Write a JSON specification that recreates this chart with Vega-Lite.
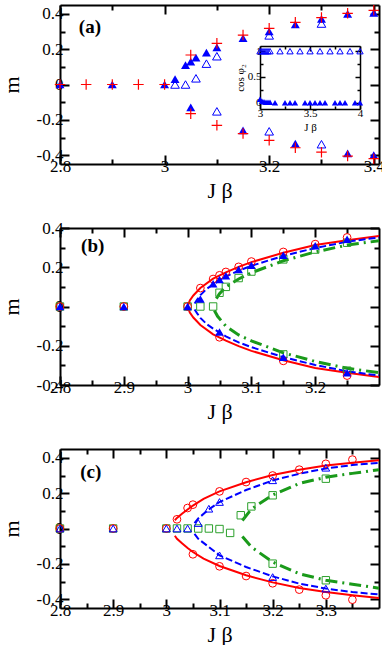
{
  "$schema": "https://vega.github.io/schema/vega-lite/v6.json",
  "padding": {"left": 0, "top": 2, "right": 0, "bottom": 0},
  "background": "white",
  "bounds": "flush",
  "spacing": 64,
  "config": {
    "view": {"stroke": null},
    "axis": {"grid": false, "domainColor": "black", "domainWidth": 2, "tickColor": "black", "tickWidth": 2,
      "labelFont": "Liberation Serif", "labelFontSize": 17, "labelColor": "black",
      "titleFont": "Liberation Serif", "titleFontSize": 22, "titleFontWeight": "normal", "titleColor": "black",
      "labelFlush": false, "labelOverlap": false}
  },
  "datasets": {
    "a": [
      {"s":"plus","jb":2.8,"m":0},{"s":"plus","jb":2.85,"m":0},{"s":"plus","jb":2.9,"m":0},{"s":"plus","jb":2.95,"m":0},{"s":"plus","jb":3.0,"m":0},
      {"s":"plus","jb":3.05,"m":0.167},{"s":"plus","jb":3.05,"m":-0.165},
      {"s":"plus","jb":3.1,"m":0.233},{"s":"plus","jb":3.1,"m":-0.231},
      {"s":"plus","jb":3.15,"m":0.28},{"s":"plus","jb":3.15,"m":-0.278},
      {"s":"plus","jb":3.2,"m":0.318},{"s":"plus","jb":3.2,"m":-0.316},
      {"s":"plus","jb":3.25,"m":0.352},{"s":"plus","jb":3.25,"m":-0.358},
      {"s":"plus","jb":3.3,"m":0.379},{"s":"plus","jb":3.3,"m":-0.383},
      {"s":"plus","jb":3.35,"m":0.403},{"s":"plus","jb":3.35,"m":-0.405},
      {"s":"plus","jb":3.4,"m":0.42},{"s":"plus","jb":3.4,"m":-0.42},
      {"s":"tri","jb":2.8,"m":0},{"s":"tri","jb":2.9,"m":0},{"s":"tri","jb":3.0,"m":0},
      {"s":"tri","jb":3.02,"m":0.03},{"s":"tri","jb":3.04,"m":0.11},{"s":"tri","jb":3.05,"m":0.13},
      {"s":"tri","jb":3.06,"m":0.152},{"s":"tri","jb":3.08,"m":0.18},{"s":"tri","jb":3.1,"m":0.21},
      {"s":"tri","jb":3.05,"m":-0.13},{"s":"tri","jb":3.15,"m":0.262},{"s":"tri","jb":3.15,"m":-0.26},
      {"s":"tri","jb":3.2,"m":0.3},{"s":"tri","jb":3.25,"m":0.34},{"s":"tri","jb":3.25,"m":-0.335},
      {"s":"tri","jb":3.3,"m":0.372},{"s":"tri","jb":3.35,"m":0.4},{"s":"tri","jb":3.35,"m":-0.39},
      {"s":"tri","jb":3.4,"m":0.405},{"s":"tri","jb":3.4,"m":-0.4},
      {"s":"otri","jb":3.02,"m":0},{"s":"otri","jb":3.04,"m":0},{"s":"otri","jb":3.06,"m":0.035},
      {"s":"otri","jb":3.08,"m":0.118},{"s":"otri","jb":3.1,"m":0.16},{"s":"otri","jb":3.1,"m":-0.152},
      {"s":"otri","jb":3.2,"m":0.278},{"s":"otri","jb":3.2,"m":-0.265},
      {"s":"otri","jb":3.3,"m":0.345},{"s":"otri","jb":3.3,"m":-0.338}
    ],
    "ai": [
      {"s":"o","jb":3.0,"c":1},{"s":"o","jb":3.02,"c":1},{"s":"o","jb":3.04,"c":1},{"s":"o","jb":3.06,"c":1},{"s":"o","jb":3.08,"c":1},{"s":"o","jb":3.1,"c":1},
      {"s":"o","jb":3.2,"c":1},{"s":"o","jb":3.3,"c":1},{"s":"o","jb":3.4,"c":1},{"s":"o","jb":3.5,"c":1},{"s":"o","jb":3.6,"c":1},
      {"s":"o","jb":3.7,"c":1},{"s":"o","jb":3.8,"c":1},{"s":"o","jb":3.9,"c":1},{"s":"o","jb":4.0,"c":1},
      {"s":"f","jb":3.0,"c":0.07},{"s":"f","jb":3.02,"c":0.03},{"s":"f","jb":3.04,"c":0.02},{"s":"f","jb":3.06,"c":0.01},{"s":"f","jb":3.08,"c":0.01},
      {"s":"f","jb":3.1,"c":0.01},{"s":"f","jb":3.15,"c":0},{"s":"f","jb":3.25,"c":0},{"s":"f","jb":3.3,"c":0},{"s":"f","jb":3.35,"c":0},
      {"s":"f","jb":3.45,"c":0},{"s":"f","jb":3.5,"c":0},{"s":"f","jb":3.55,"c":0},{"s":"f","jb":3.6,"c":0},{"s":"f","jb":3.65,"c":0},
      {"s":"f","jb":3.75,"c":0},{"s":"f","jb":3.8,"c":0},{"s":"f","jb":3.85,"c":0},{"s":"f","jb":3.95,"c":0},{"s":"f","jb":4.0,"c":0}
    ],
    "b": [
      {"s":"circ","jb":2.8,"m":0},{"s":"circ","jb":2.9,"m":0},{"s":"circ","jb":3.0,"m":0},
      {"s":"circ","jb":3.02,"m":0.094},{"s":"circ","jb":3.04,"m":0.14},{"s":"circ","jb":3.05,"m":0.159},{"s":"circ","jb":3.06,"m":0.176},
      {"s":"circ","jb":3.08,"m":0.202},{"s":"circ","jb":3.1,"m":0.229},{"s":"circ","jb":3.15,"m":0.278},{"s":"circ","jb":3.2,"m":0.318},
      {"s":"circ","jb":3.25,"m":0.352},{"s":"circ","jb":3.05,"m":-0.157},{"s":"circ","jb":3.15,"m":-0.277},{"s":"circ","jb":3.25,"m":-0.352},
      {"s":"tri","jb":2.8,"m":0},{"s":"tri","jb":2.9,"m":0},{"s":"tri","jb":3.0,"m":0},
      {"s":"tri","jb":3.02,"m":0.038},{"s":"tri","jb":3.04,"m":0.116},{"s":"tri","jb":3.05,"m":0.137},{"s":"tri","jb":3.06,"m":0.157},
      {"s":"tri","jb":3.08,"m":0.188},{"s":"tri","jb":3.1,"m":0.21},{"s":"tri","jb":3.15,"m":0.261},{"s":"tri","jb":3.2,"m":0.31},
      {"s":"tri","jb":3.25,"m":0.343},{"s":"tri","jb":3.05,"m":-0.13},{"s":"tri","jb":3.15,"m":-0.258},{"s":"tri","jb":3.25,"m":-0.337},
      {"s":"sq","jb":2.8,"m":0},{"s":"sq","jb":2.9,"m":0},{"s":"sq","jb":3.0,"m":0},{"s":"sq","jb":3.02,"m":0},{"s":"sq","jb":3.04,"m":0},
      {"s":"sq","jb":3.05,"m":0.07},{"s":"sq","jb":3.06,"m":0.1},{"s":"sq","jb":3.08,"m":0.145},{"s":"sq","jb":3.1,"m":0.178},
      {"s":"sq","jb":3.15,"m":0.24},{"s":"sq","jb":3.2,"m":0.29},{"s":"sq","jb":3.25,"m":0.325},
      {"s":"sq","jb":3.15,"m":-0.244},{"s":"sq","jb":3.25,"m":-0.327}
    ],
    "bc": [
      {"s":"r","k":1,"jb":3.3,"m":-0.359},{"s":"r","k":2,"jb":3.25,"m":-0.338},{"s":"r","k":3,"jb":3.2,"m":-0.313},{"s":"r","k":4,"jb":3.15,"m":-0.274},
      {"s":"r","k":5,"jb":3.1,"m":-0.226},{"s":"r","k":6,"jb":3.08,"m":-0.202},{"s":"r","k":7,"jb":3.06,"m":-0.174},{"s":"r","k":8,"jb":3.04,"m":-0.142},
      {"s":"r","k":9,"jb":3.02,"m":-0.094},{"s":"r","k":10,"jb":3.009,"m":-0.056},{"s":"r","k":11,"jb":3.0035,"m":-0.031},{"s":"r","k":12,"jb":3.0,"m":0},
      {"s":"r","k":13,"jb":3.0035,"m":0.031},{"s":"r","k":14,"jb":3.009,"m":0.056},{"s":"r","k":15,"jb":3.02,"m":0.094},{"s":"r","k":16,"jb":3.04,"m":0.142},
      {"s":"r","k":17,"jb":3.06,"m":0.174},{"s":"r","k":18,"jb":3.08,"m":0.202},{"s":"r","k":19,"jb":3.1,"m":0.226},{"s":"r","k":20,"jb":3.15,"m":0.274},
      {"s":"r","k":21,"jb":3.2,"m":0.313},{"s":"r","k":22,"jb":3.25,"m":0.338},{"s":"r","k":23,"jb":3.3,"m":0.359},
      {"s":"bu","k":1,"jb":3.011,"m":0.015},{"s":"bu","k":2,"jb":3.015,"m":0.035},{"s":"bu","k":3,"jb":3.02,"m":0.058},{"s":"bu","k":4,"jb":3.03,"m":0.09},
      {"s":"bu","k":5,"jb":3.04,"m":0.113},{"s":"bu","k":6,"jb":3.06,"m":0.152},{"s":"bu","k":7,"jb":3.08,"m":0.183},{"s":"bu","k":8,"jb":3.1,"m":0.207},
      {"s":"bu","k":9,"jb":3.15,"m":0.258},{"s":"bu","k":10,"jb":3.2,"m":0.298},{"s":"bu","k":11,"jb":3.25,"m":0.33},{"s":"bu","k":12,"jb":3.3,"m":0.352},
      {"s":"bl","k":1,"jb":3.011,"m":-0.015},{"s":"bl","k":2,"jb":3.015,"m":-0.035},{"s":"bl","k":3,"jb":3.02,"m":-0.058},{"s":"bl","k":4,"jb":3.03,"m":-0.09},
      {"s":"bl","k":5,"jb":3.04,"m":-0.113},{"s":"bl","k":6,"jb":3.06,"m":-0.152},{"s":"bl","k":7,"jb":3.08,"m":-0.183},{"s":"bl","k":8,"jb":3.1,"m":-0.207},
      {"s":"bl","k":9,"jb":3.15,"m":-0.258},{"s":"bl","k":10,"jb":3.2,"m":-0.298},{"s":"bl","k":11,"jb":3.25,"m":-0.33},{"s":"bl","k":12,"jb":3.3,"m":-0.352},
      {"s":"gu","k":1,"jb":3.045,"m":0.04},{"s":"gu","k":2,"jb":3.05,"m":0.065},{"s":"gu","k":3,"jb":3.06,"m":0.1},{"s":"gu","k":4,"jb":3.08,"m":0.14},
      {"s":"gu","k":5,"jb":3.1,"m":0.172},{"s":"gu","k":6,"jb":3.15,"m":0.233},{"s":"gu","k":7,"jb":3.2,"m":0.278},{"s":"gu","k":8,"jb":3.25,"m":0.313},{"s":"gu","k":9,"jb":3.3,"m":0.335},
      {"s":"gl","k":1,"jb":3.042,"m":-0.02},{"s":"gl","k":2,"jb":3.047,"m":-0.05},{"s":"gl","k":3,"jb":3.06,"m":-0.1},{"s":"gl","k":4,"jb":3.08,"m":-0.145},
      {"s":"gl","k":5,"jb":3.1,"m":-0.175},{"s":"gl","k":6,"jb":3.15,"m":-0.236},{"s":"gl","k":7,"jb":3.2,"m":-0.28},{"s":"gl","k":8,"jb":3.25,"m":-0.315},{"s":"gl","k":9,"jb":3.3,"m":-0.337}
    ],
    "c": [
      {"s":"circ","jb":2.8,"m":0},{"s":"circ","jb":2.9,"m":0},{"s":"circ","jb":3.0,"m":0},
      {"s":"circ","jb":3.02,"m":0.052},{"s":"circ","jb":3.04,"m":0.116},{"s":"circ","jb":3.05,"m":0.135},{"s":"circ","jb":3.1,"m":0.21},
      {"s":"circ","jb":3.15,"m":0.263},{"s":"circ","jb":3.2,"m":0.3},{"s":"circ","jb":3.25,"m":0.333},{"s":"circ","jb":3.3,"m":0.366},{"s":"circ","jb":3.35,"m":0.39},
      {"s":"circ","jb":3.05,"m":-0.146},{"s":"circ","jb":3.1,"m":-0.214},{"s":"circ","jb":3.15,"m":-0.269},{"s":"circ","jb":3.2,"m":-0.31},
      {"s":"circ","jb":3.25,"m":-0.346},{"s":"circ","jb":3.3,"m":-0.378},{"s":"circ","jb":3.35,"m":-0.403},
      {"s":"otri","jb":2.8,"m":0},{"s":"otri","jb":2.9,"m":0},{"s":"otri","jb":3.0,"m":0},{"s":"otri","jb":3.02,"m":0},{"s":"otri","jb":3.04,"m":0},
      {"s":"otri","jb":3.06,"m":0.031},{"s":"otri","jb":3.08,"m":0.112},{"s":"otri","jb":3.1,"m":0.15},{"s":"otri","jb":3.2,"m":0.273},{"s":"otri","jb":3.3,"m":0.344},
      {"s":"otri","jb":3.1,"m":-0.152},{"s":"otri","jb":3.2,"m":-0.275},{"s":"otri","jb":3.3,"m":-0.34},
      {"s":"sq","jb":2.8,"m":0},{"s":"sq","jb":2.9,"m":0},{"s":"sq","jb":3.0,"m":0},{"s":"sq","jb":3.02,"m":0},{"s":"sq","jb":3.04,"m":0},
      {"s":"sq","jb":3.06,"m":0},{"s":"sq","jb":3.08,"m":0},{"s":"sq","jb":3.1,"m":-0.003},{"s":"sq","jb":3.12,"m":-0.025},
      {"s":"sq","jb":3.14,"m":0.075},{"s":"sq","jb":3.16,"m":0.125},{"s":"sq","jb":3.2,"m":0.188},{"s":"sq","jb":3.3,"m":0.282},
      {"s":"sq","jb":3.2,"m":-0.199},{"s":"sq","jb":3.3,"m":-0.293}
    ],
    "cc": [
      {"s":"ru","k":1,"jb":3.016,"m":0.047},{"s":"ru","k":2,"jb":3.02,"m":0.06},{"s":"ru","k":3,"jb":3.03,"m":0.085},{"s":"ru","k":4,"jb":3.04,"m":0.108},
      {"s":"ru","k":5,"jb":3.05,"m":0.13},{"s":"ru","k":6,"jb":3.07,"m":0.168},{"s":"ru","k":7,"jb":3.1,"m":0.21},{"s":"ru","k":8,"jb":3.15,"m":0.262},
      {"s":"ru","k":9,"jb":3.2,"m":0.303},{"s":"ru","k":10,"jb":3.25,"m":0.333},{"s":"ru","k":11,"jb":3.3,"m":0.356},{"s":"ru","k":12,"jb":3.35,"m":0.372},{"s":"ru","k":13,"jb":3.4,"m":0.387},
      {"s":"rl","k":1,"jb":3.016,"m":-0.041},{"s":"rl","k":2,"jb":3.02,"m":-0.058},{"s":"rl","k":3,"jb":3.03,"m":-0.085},{"s":"rl","k":4,"jb":3.04,"m":-0.11},
      {"s":"rl","k":5,"jb":3.05,"m":-0.133},{"s":"rl","k":6,"jb":3.07,"m":-0.17},{"s":"rl","k":7,"jb":3.1,"m":-0.212},{"s":"rl","k":8,"jb":3.15,"m":-0.265},
      {"s":"rl","k":9,"jb":3.2,"m":-0.305},{"s":"rl","k":10,"jb":3.25,"m":-0.337},{"s":"rl","k":11,"jb":3.3,"m":-0.36},{"s":"rl","k":12,"jb":3.35,"m":-0.378},{"s":"rl","k":13,"jb":3.4,"m":-0.393},
      {"s":"bu","k":1,"jb":3.053,"m":0.03},{"s":"bu","k":2,"jb":3.06,"m":0.057},{"s":"bu","k":3,"jb":3.08,"m":0.108},{"s":"bu","k":4,"jb":3.1,"m":0.15},
      {"s":"bu","k":5,"jb":3.15,"m":0.218},{"s":"bu","k":6,"jb":3.2,"m":0.272},{"s":"bu","k":7,"jb":3.25,"m":0.31},{"s":"bu","k":8,"jb":3.3,"m":0.34},{"s":"bu","k":9,"jb":3.35,"m":0.359},{"s":"bu","k":10,"jb":3.4,"m":0.372},
      {"s":"bl","k":1,"jb":3.053,"m":-0.03},{"s":"bl","k":2,"jb":3.06,"m":-0.058},{"s":"bl","k":3,"jb":3.08,"m":-0.105},{"s":"bl","k":4,"jb":3.1,"m":-0.152},
      {"s":"bl","k":5,"jb":3.15,"m":-0.218},{"s":"bl","k":6,"jb":3.2,"m":-0.271},{"s":"bl","k":7,"jb":3.25,"m":-0.312},{"s":"bl","k":8,"jb":3.3,"m":-0.34},{"s":"bl","k":9,"jb":3.35,"m":-0.36},{"s":"bl","k":10,"jb":3.4,"m":-0.373},
      {"s":"gu","k":1,"jb":3.143,"m":0.045},{"s":"gu","k":2,"jb":3.16,"m":0.11},{"s":"gu","k":3,"jb":3.2,"m":0.19},{"s":"gu","k":4,"jb":3.25,"m":0.255},
      {"s":"gu","k":5,"jb":3.3,"m":0.29},{"s":"gu","k":6,"jb":3.35,"m":0.312},{"s":"gu","k":7,"jb":3.4,"m":0.333},
      {"s":"gl","k":1,"jb":3.143,"m":-0.045},{"s":"gl","k":2,"jb":3.16,"m":-0.105},{"s":"gl","k":3,"jb":3.2,"m":-0.19},{"s":"gl","k":4,"jb":3.25,"m":-0.256},
      {"s":"gl","k":5,"jb":3.3,"m":-0.293},{"s":"gl","k":6,"jb":3.35,"m":-0.315},{"s":"gl","k":7,"jb":3.4,"m":-0.338}
    ]
  },
  "vconcat": [
    {
      "width": 319, "height": 159,
      "resolve": {"scale": {"x": "independent", "y": "independent"}, "axis": {"x": "independent", "y": "independent"}},
      "layer": [
        {
          "data": {"name": "a"},
          "transform": [{"filter": "datum.s === 'tri'"}],
          "mark": {"type": "point", "shape": "triangle-up", "filled": true, "color": "#0000ff", "size": 80, "opacity": 1},
          "encoding": {
            "x": {"field": "jb", "type": "quantitative", "scale": {"domain": [2.8, 3.41]},
              "axis": {"orient": "bottom", "values": [2.8,2.9,3,3.1,3.2,3.3,3.4], "title": "J β",
                "tickSize": {"condition": {"test": "abs(datum.value*5-round(datum.value*5))<0.001", "value": -9}, "value": -5},
                "labelExpr": "abs(datum.value*5-round(datum.value*5))<0.001 ? ''+datum.value : ''", "labelPadding": 3, "titlePadding": 2}},
            "y": {"field": "m", "type": "quantitative", "scale": {"domain": [-0.45, 0.45]},
              "axis": {"orient": "left", "values": [-0.4,-0.3,-0.2,-0.1,0,0.1,0.2,0.3,0.4], "title": "m",
                "tickSize": {"condition": {"test": "abs(datum.value*5-round(datum.value*5))<0.001", "value": -9}, "value": -5},
                "labelExpr": "abs(datum.value*5-round(datum.value*5))<0.001 ? ''+datum.value : ''", "labelPadding": 6, "titlePadding": 13}}
          }
        },
        {
          "data": {"name": "a"},
          "transform": [{"filter": "datum.s === 'otri'"}],
          "mark": {"type": "point", "shape": "triangle-up", "filled": false, "color": "#0000ff", "strokeWidth": 1, "size": 75, "opacity": 1},
          "encoding": {
            "x": {"field": "jb", "type": "quantitative", "scale": {"domain": [2.8, 3.41]},
              "axis": {"orient": "top", "values": [2.8,2.9,3,3.1,3.2,3.3,3.4], "title": null, "labels": false,
                "tickSize": {"condition": {"test": "abs(datum.value*5-round(datum.value*5))<0.001", "value": -9}, "value": -5}}},
            "y": {"field": "m", "type": "quantitative", "scale": {"domain": [-0.45, 0.45]},
              "axis": {"orient": "right", "values": [-0.4,-0.3,-0.2,-0.1,0,0.1,0.2,0.3,0.4], "title": null, "labels": false,
                "tickSize": {"condition": {"test": "abs(datum.value*5-round(datum.value*5))<0.001", "value": -9}, "value": -5}}}
          }
        },
        {
          "data": {"name": "a"},
          "transform": [{"filter": "datum.s === 'plus'"}],
          "mark": {"type": "point", "shape": "M-1,0H1M0,-1V1", "filled": false, "color": "#ff0000", "strokeWidth": 1.2, "size": 110, "opacity": 1},
          "encoding": {
            "x": {"field": "jb", "type": "quantitative", "scale": {"domain": [2.8, 3.41]}, "axis": null},
            "y": {"field": "m", "type": "quantitative", "scale": {"domain": [-0.45, 0.45]}, "axis": null}
          }
        },
        {
          "data": {"name": "ai"},
          "transform": [{"filter": "datum.s === 'o'"}],
          "mark": {"type": "point", "shape": "triangle-up", "filled": false, "color": "#0000ff", "strokeWidth": 1, "size": 40, "opacity": 1},
          "encoding": {
            "x": {"field": "jb", "type": "quantitative", "scale": {"domain": [3, 4], "range": [200, 300]},
              "axis": {"orient": "bottom", "offset": -55, "values": [3,3.25,3.5,3.75,4], "title": "J β", "titleFontSize": 11, "labelFontSize": 11,
                "domainWidth": 1.5, "tickWidth": 1.5,
                "tickSize": {"condition": {"test": "abs(datum.value*2-round(datum.value*2))<0.001", "value": -5}, "value": -3},
                "labelExpr": "abs(datum.value*2-round(datum.value*2))<0.001 ? ''+datum.value : ''", "labelPadding": 3, "titlePadding": 1}},
            "y": {"field": "c", "type": "quantitative", "scale": {"domain": [-0.12, 1.1], "range": [104, 41]},
              "axis": {"orient": "left", "offset": -200, "values": [0,0.25,0.5,0.75,1], "title": "cos φ₂", "titleFontSize": 11, "labelFontSize": 11,
                "domainWidth": 1.5, "tickWidth": 1.5,
                "tickSize": {"condition": {"test": "abs(datum.value*2-round(datum.value*2))<0.001", "value": -5}, "value": -3},
                "labelExpr": "abs(datum.value*2-round(datum.value*2))<0.001 ? ''+datum.value : ''", "labelPadding": 4, "titlePadding": 2}}
          }
        },
        {
          "data": {"name": "ai"},
          "transform": [{"filter": "datum.s === 'f'"}],
          "mark": {"type": "point", "shape": "triangle-up", "filled": true, "color": "#0000ff", "size": 40, "opacity": 1},
          "encoding": {
            "x": {"field": "jb", "type": "quantitative", "scale": {"domain": [3, 4], "range": [200, 300]},
              "axis": {"orient": "top", "offset": -41, "values": [3,3.25,3.5,3.75,4], "title": null, "labels": false,
                "domainWidth": 1.5, "tickWidth": 1.5,
                "tickSize": {"condition": {"test": "abs(datum.value*2-round(datum.value*2))<0.001", "value": -5}, "value": -3}}},
            "y": {"field": "c", "type": "quantitative", "scale": {"domain": [-0.12, 1.1], "range": [104, 41]},
              "axis": {"orient": "right", "offset": -19, "values": [0,0.25,0.5,0.75,1], "title": null, "labels": false,
                "domainWidth": 1.5, "tickWidth": 1.5,
                "tickSize": {"condition": {"test": "abs(datum.value*2-round(datum.value*2))<0.001", "value": -5}, "value": -3}}}
          }
        },
        {
          "data": {"values": [{"label": "(a)"}]},
          "mark": {"type": "text", "font": "Liberation Serif", "fontWeight": "bold", "fontSize": 19, "align": "left", "baseline": "middle", "color": "black"},
          "encoding": {
            "text": {"field": "label"},
            "x": {"datum": 2.836, "type": "quantitative", "scale": {"domain": [2.8, 3.41]}, "axis": null},
            "y": {"datum": 0.325, "type": "quantitative", "scale": {"domain": [-0.45, 0.45]}, "axis": null}
          }
        }
      ]
    },
    {
      "width": 319, "height": 157,
      "resolve": {"scale": {"x": "independent", "y": "independent"}, "axis": {"x": "independent", "y": "independent"}},
      "layer": [
        {
          "data": {"name": "bc"},
          "transform": [{"filter": "datum.s === 'r'"}],
          "mark": {"type": "line", "color": "#ff0000", "strokeWidth": 2},
          "encoding": {
            "order": {"field": "k", "type": "quantitative"},
            "x": {"field": "jb", "type": "quantitative", "scale": {"domain": [2.8, 3.3]},
              "axis": {"orient": "bottom", "values": [2.8,2.85,2.9,2.95,3,3.05,3.1,3.15,3.2,3.25], "title": "J β",
                "tickSize": {"condition": {"test": "abs(datum.value*10-round(datum.value*10))<0.001", "value": -9}, "value": -5},
                "labelExpr": "abs(datum.value*10-round(datum.value*10))<0.001 ? ''+datum.value : ''", "labelPadding": 3, "titlePadding": 2}},
            "y": {"field": "m", "type": "quantitative", "scale": {"domain": [-0.4, 0.4]},
              "axis": {"orient": "left", "values": [-0.4,-0.3,-0.2,-0.1,0,0.1,0.2,0.3,0.4], "title": "m",
                "tickSize": {"condition": {"test": "abs(datum.value*5-round(datum.value*5))<0.001", "value": -9}, "value": -5},
                "labelExpr": "abs(datum.value*5-round(datum.value*5))<0.001 ? ''+datum.value : ''", "labelPadding": 6, "titlePadding": 13}}
          }
        },
        {
          "data": {"name": "bc"},
          "transform": [{"filter": "datum.s === 'bu' || datum.s === 'bl'"}],
          "mark": {"type": "line", "color": "#0000ff", "strokeWidth": 2, "strokeDash": [7, 3]},
          "encoding": {
            "detail": {"field": "s"},
            "order": {"field": "k", "type": "quantitative"},
            "x": {"field": "jb", "type": "quantitative", "scale": {"domain": [2.8, 3.3]},
              "axis": {"orient": "top", "values": [2.8,2.85,2.9,2.95,3,3.05,3.1,3.15,3.2,3.25], "title": null, "labels": false,
                "tickSize": {"condition": {"test": "abs(datum.value*10-round(datum.value*10))<0.001", "value": -9}, "value": -5}}},
            "y": {"field": "m", "type": "quantitative", "scale": {"domain": [-0.4, 0.4]},
              "axis": {"orient": "right", "values": [-0.4,-0.3,-0.2,-0.1,0,0.1,0.2,0.3,0.4], "title": null, "labels": false,
                "tickSize": {"condition": {"test": "abs(datum.value*5-round(datum.value*5))<0.001", "value": -9}, "value": -5}}}
          }
        },
        {
          "data": {"name": "bc"},
          "transform": [{"filter": "datum.s === 'gu' || datum.s === 'gl'"}],
          "mark": {"type": "line", "color": "#1a9a1a", "strokeWidth": 3, "strokeDash": [12, 5, 2, 5]},
          "encoding": {
            "detail": {"field": "s"},
            "order": {"field": "k", "type": "quantitative"},
            "x": {"field": "jb", "type": "quantitative", "scale": {"domain": [2.8, 3.3]}, "axis": null},
            "y": {"field": "m", "type": "quantitative", "scale": {"domain": [-0.4, 0.4]}, "axis": null}
          }
        },
        {
          "data": {"name": "b"},
          "transform": [{"filter": "datum.s === 'sq'"}],
          "mark": {"type": "point", "shape": "square", "filled": false, "color": "#2ca02c", "strokeWidth": 1, "size": 55, "opacity": 1},
          "encoding": {
            "x": {"field": "jb", "type": "quantitative", "scale": {"domain": [2.8, 3.3]}, "axis": null},
            "y": {"field": "m", "type": "quantitative", "scale": {"domain": [-0.4, 0.4]}, "axis": null}
          }
        },
        {
          "data": {"name": "b"},
          "transform": [{"filter": "datum.s === 'circ'"}],
          "mark": {"type": "point", "shape": "circle", "filled": false, "color": "#ff0000", "strokeWidth": 1, "size": 60, "opacity": 1},
          "encoding": {
            "x": {"field": "jb", "type": "quantitative", "scale": {"domain": [2.8, 3.3]}, "axis": null},
            "y": {"field": "m", "type": "quantitative", "scale": {"domain": [-0.4, 0.4]}, "axis": null}
          }
        },
        {
          "data": {"name": "b"},
          "transform": [{"filter": "datum.s === 'tri'"}],
          "mark": {"type": "point", "shape": "triangle-up", "filled": true, "color": "#0000ff", "size": 75, "opacity": 1},
          "encoding": {
            "x": {"field": "jb", "type": "quantitative", "scale": {"domain": [2.8, 3.3]}, "axis": null},
            "y": {"field": "m", "type": "quantitative", "scale": {"domain": [-0.4, 0.4]}, "axis": null}
          }
        },
        {
          "data": {"values": [{"label": "(b)"}]},
          "mark": {"type": "text", "font": "Liberation Serif", "fontWeight": "bold", "fontSize": 19, "align": "left", "baseline": "middle", "color": "black"},
          "encoding": {
            "text": {"field": "label"},
            "x": {"datum": 2.833, "type": "quantitative", "scale": {"domain": [2.8, 3.3]}, "axis": null},
            "y": {"datum": 0.308, "type": "quantitative", "scale": {"domain": [-0.4, 0.4]}, "axis": null}
          }
        }
      ]
    },
    {
      "width": 319, "height": 159,
      "resolve": {"scale": {"x": "independent", "y": "independent"}, "axis": {"x": "independent", "y": "independent"}},
      "layer": [
        {
          "data": {"name": "cc"},
          "transform": [{"filter": "datum.s === 'ru' || datum.s === 'rl'"}],
          "mark": {"type": "line", "color": "#ff0000", "strokeWidth": 2},
          "encoding": {
            "detail": {"field": "s"},
            "order": {"field": "k", "type": "quantitative"},
            "x": {"field": "jb", "type": "quantitative", "scale": {"domain": [2.8, 3.4]},
              "axis": {"orient": "bottom", "values": [2.8,2.85,2.9,2.95,3,3.05,3.1,3.15,3.2,3.25,3.3,3.35], "title": "J β",
                "tickSize": {"condition": {"test": "abs(datum.value*10-round(datum.value*10))<0.001", "value": -9}, "value": -5},
                "labelExpr": "abs(datum.value*10-round(datum.value*10))<0.001 ? ''+datum.value : ''", "labelPadding": 3, "titlePadding": 2}},
            "y": {"field": "m", "type": "quantitative", "scale": {"domain": [-0.45, 0.45]},
              "axis": {"orient": "left", "values": [-0.4,-0.3,-0.2,-0.1,0,0.1,0.2,0.3,0.4], "title": "m",
                "tickSize": {"condition": {"test": "abs(datum.value*5-round(datum.value*5))<0.001", "value": -9}, "value": -5},
                "labelExpr": "abs(datum.value*5-round(datum.value*5))<0.001 ? ''+datum.value : ''", "labelPadding": 6, "titlePadding": 13}}
          }
        },
        {
          "data": {"name": "cc"},
          "transform": [{"filter": "datum.s === 'bu' || datum.s === 'bl'"}],
          "mark": {"type": "line", "color": "#0000ff", "strokeWidth": 2, "strokeDash": [7, 3]},
          "encoding": {
            "detail": {"field": "s"},
            "order": {"field": "k", "type": "quantitative"},
            "x": {"field": "jb", "type": "quantitative", "scale": {"domain": [2.8, 3.4]},
              "axis": {"orient": "top", "values": [2.8,2.85,2.9,2.95,3,3.05,3.1,3.15,3.2,3.25,3.3,3.35], "title": null, "labels": false,
                "tickSize": {"condition": {"test": "abs(datum.value*10-round(datum.value*10))<0.001", "value": -9}, "value": -5}}},
            "y": {"field": "m", "type": "quantitative", "scale": {"domain": [-0.45, 0.45]},
              "axis": {"orient": "right", "values": [-0.4,-0.3,-0.2,-0.1,0,0.1,0.2,0.3,0.4], "title": null, "labels": false,
                "tickSize": {"condition": {"test": "abs(datum.value*5-round(datum.value*5))<0.001", "value": -9}, "value": -5}}}
          }
        },
        {
          "data": {"name": "cc"},
          "transform": [{"filter": "datum.s === 'gu' || datum.s === 'gl'"}],
          "mark": {"type": "line", "color": "#1a9a1a", "strokeWidth": 3, "strokeDash": [12, 5, 2, 5]},
          "encoding": {
            "detail": {"field": "s"},
            "order": {"field": "k", "type": "quantitative"},
            "x": {"field": "jb", "type": "quantitative", "scale": {"domain": [2.8, 3.4]}, "axis": null},
            "y": {"field": "m", "type": "quantitative", "scale": {"domain": [-0.45, 0.45]}, "axis": null}
          }
        },
        {
          "data": {"name": "c"},
          "transform": [{"filter": "datum.s === 'sq'"}],
          "mark": {"type": "point", "shape": "square", "filled": false, "color": "#2ca02c", "strokeWidth": 1, "size": 55, "opacity": 1},
          "encoding": {
            "x": {"field": "jb", "type": "quantitative", "scale": {"domain": [2.8, 3.4]}, "axis": null},
            "y": {"field": "m", "type": "quantitative", "scale": {"domain": [-0.45, 0.45]}, "axis": null}
          }
        },
        {
          "data": {"name": "c"},
          "transform": [{"filter": "datum.s === 'circ'"}],
          "mark": {"type": "point", "shape": "circle", "filled": false, "color": "#ff0000", "strokeWidth": 1, "size": 60, "opacity": 1},
          "encoding": {
            "x": {"field": "jb", "type": "quantitative", "scale": {"domain": [2.8, 3.4]}, "axis": null},
            "y": {"field": "m", "type": "quantitative", "scale": {"domain": [-0.45, 0.45]}, "axis": null}
          }
        },
        {
          "data": {"name": "c"},
          "transform": [{"filter": "datum.s === 'otri'"}],
          "mark": {"type": "point", "shape": "triangle-up", "filled": false, "color": "#0000ff", "strokeWidth": 1, "size": 60, "opacity": 1},
          "encoding": {
            "x": {"field": "jb", "type": "quantitative", "scale": {"domain": [2.8, 3.4]}, "axis": null},
            "y": {"field": "m", "type": "quantitative", "scale": {"domain": [-0.45, 0.45]}, "axis": null}
          }
        },
        {
          "data": {"values": [{"label": "(c)"}]},
          "mark": {"type": "text", "font": "Liberation Serif", "fontWeight": "bold", "fontSize": 19, "align": "left", "baseline": "middle", "color": "black"},
          "encoding": {
            "text": {"field": "label"},
            "x": {"datum": 2.838, "type": "quantitative", "scale": {"domain": [2.8, 3.4]}, "axis": null},
            "y": {"datum": 0.32, "type": "quantitative", "scale": {"domain": [-0.45, 0.45]}, "axis": null}
          }
        }
      ]
    }
  ]
}
